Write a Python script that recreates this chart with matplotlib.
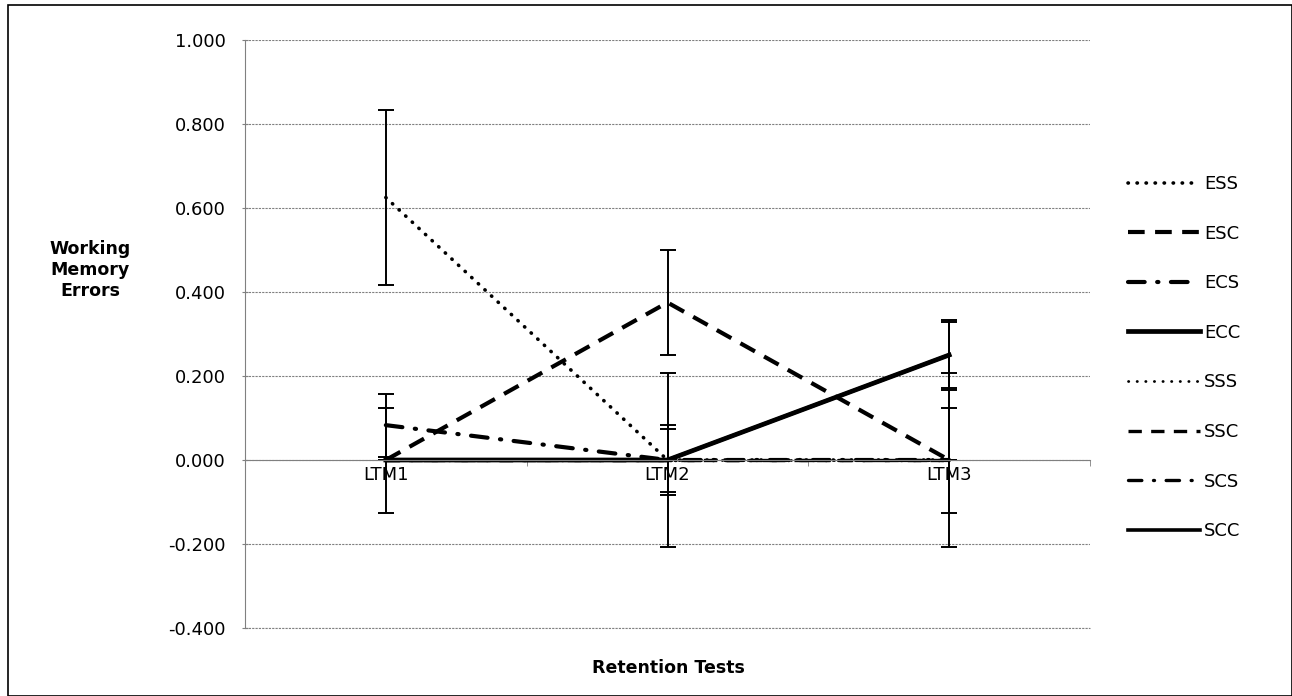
import matplotlib
matplotlib.use("Agg")
import matplotlib.pyplot as plt
from matplotlib.patches import Rectangle
import numpy as np

# retention tests and group means / error bars
tests = ["LTM1", "LTM2", "LTM3"]
groups = ["ESS", "ESC", "ECS", "ECC", "SSS", "SSC", "SCS", "SCC"]

ess = [0.625, 0.000, 0.000]
esc = [0.000, 0.375, 0.000]
ecs = [0.083, 0.000, 0.000]
ecc = [0.000, 0.000, 0.250]
sss = [0.000, 0.000, 0.000]
ssc = [0.000, 0.000, 0.000]
scs = [0.000, 0.000, 0.000]
scc = [0.000, 0.000, 0.250]

ess_err = [0.208, 0.208, 0.208]
esc_err = [0.125, 0.125, 0.125]
ecs_err = [0.075, 0.083, 0.000]
ecc_err = [0.000, 0.075, 0.083]
sss_err = [0.000, 0.000, 0.000]
ssc_err = [0.000, 0.000, 0.000]
scs_err = [0.000, 0.000, 0.000]
scc_err = [0.000, 0.000, 0.078]

yticks = [-0.4, -0.2, 0.0, 0.2, 0.4, 0.6, 0.8, 1.0]

plt.rcParams['font.family'] = ['DejaVu Sans']

means = [ess, esc, ecs, ecc, sss, ssc, scs, scc]
errs = [ess_err, esc_err, ecs_err, ecc_err, sss_err, ssc_err, scs_err, scc_err]
styles = [
  dict(lw=2.6, dashes=(0.1, 2.4), dash_capstyle='round'),
  dict(lw=3.0, dashes=(4, 2.5)),
  dict(lw=3.0, dashes=(4, 3, 0.3, 3), dash_capstyle='round'),
  dict(lw=3.4, ls='-'),
  dict(lw=2.0, dashes=(0.1, 3.0), dash_capstyle='round'),
  dict(lw=2.4, dashes=(4, 2.8)),
  dict(lw=2.4, dashes=(4, 3.5, 0.3, 3.5), dash_capstyle='round'),
  dict(lw=2.6, ls='-'),
]

fig = plt.figure(figsize=(12.92, 6.96), dpi=100)
ax = fig.add_axes([245/1292, 68/696, 845/1292, 588/696])

x = np.arange(len(tests))
for name, m, e, st in zip(groups, means, errs, styles):
  ax.plot(x, m, color='black', label=name, **st)
  ax.errorbar(x, m, yerr=e, fmt='none', ecolor='black', elinewidth=1.4,
              capsize=6, capthick=1.4)

ax.set_xlim(-0.5, 2.5)
ax.set_ylim(-0.4, 1.0)
ax.set_yticks(yticks)
ax.set_yticklabels(["%.3f" % v for v in yticks])
ax.yaxis.grid(True, color='#808080', ls=(0, (2, 1)), lw=0.8)
ax.axhline(-0.4, color='#808080', ls=(0, (2, 1)), lw=0.8, clip_on=False, zorder=0)
ax.set_axisbelow(True)

ax.set_xticks(x)
ax.set_xticklabels(tests)
ax.set_xticks([-0.5, 0.5, 1.5, 2.5], minor=True)
ax.tick_params(axis='x', which='major', length=0, pad=4, labelsize=13)
ax.tick_params(axis='x', which='minor', length=4, direction='out', color='#808080')
ax.tick_params(axis='y', length=4, direction='inout', color='#808080', pad=12, labelsize=13)

for s in ['top', 'right']:
  ax.spines[s].set_visible(False)
ax.spines['bottom'].set_position(('data', 0))
ax.spines['bottom'].set_color('#808080')
ax.spines['left'].set_color('#808080')
ax.spines['left'].set_linestyle((0, (2, 1)))
ax.spines['left'].set_linewidth(0.8)

fig.text(90/1292, 1 - 270/696, "Working\nMemory\nErrors", ha='center', va='center',
         fontsize=12.5, fontweight='bold', linespacing=1.2)
fig.text(668/1292, 1 - 668/696, "Retention Tests", ha='center', va='center',
         fontsize=12.5, fontweight='bold')

fig.legend(loc='upper left', bbox_to_anchor=(1128/1292, 1 - 175/696), frameon=False,
           fontsize=13, handlelength=4.0, handletextpad=0.2, labelspacing=1.75,
           borderpad=0, borderaxespad=0)

fig.patches.append(Rectangle((8/1292, 0), 1 - 8/1292, 1 - 5/696, transform=fig.transFigure,
                             fill=False, edgecolor='black', lw=1.2))

fig.savefig("out.png", dpi=100)
